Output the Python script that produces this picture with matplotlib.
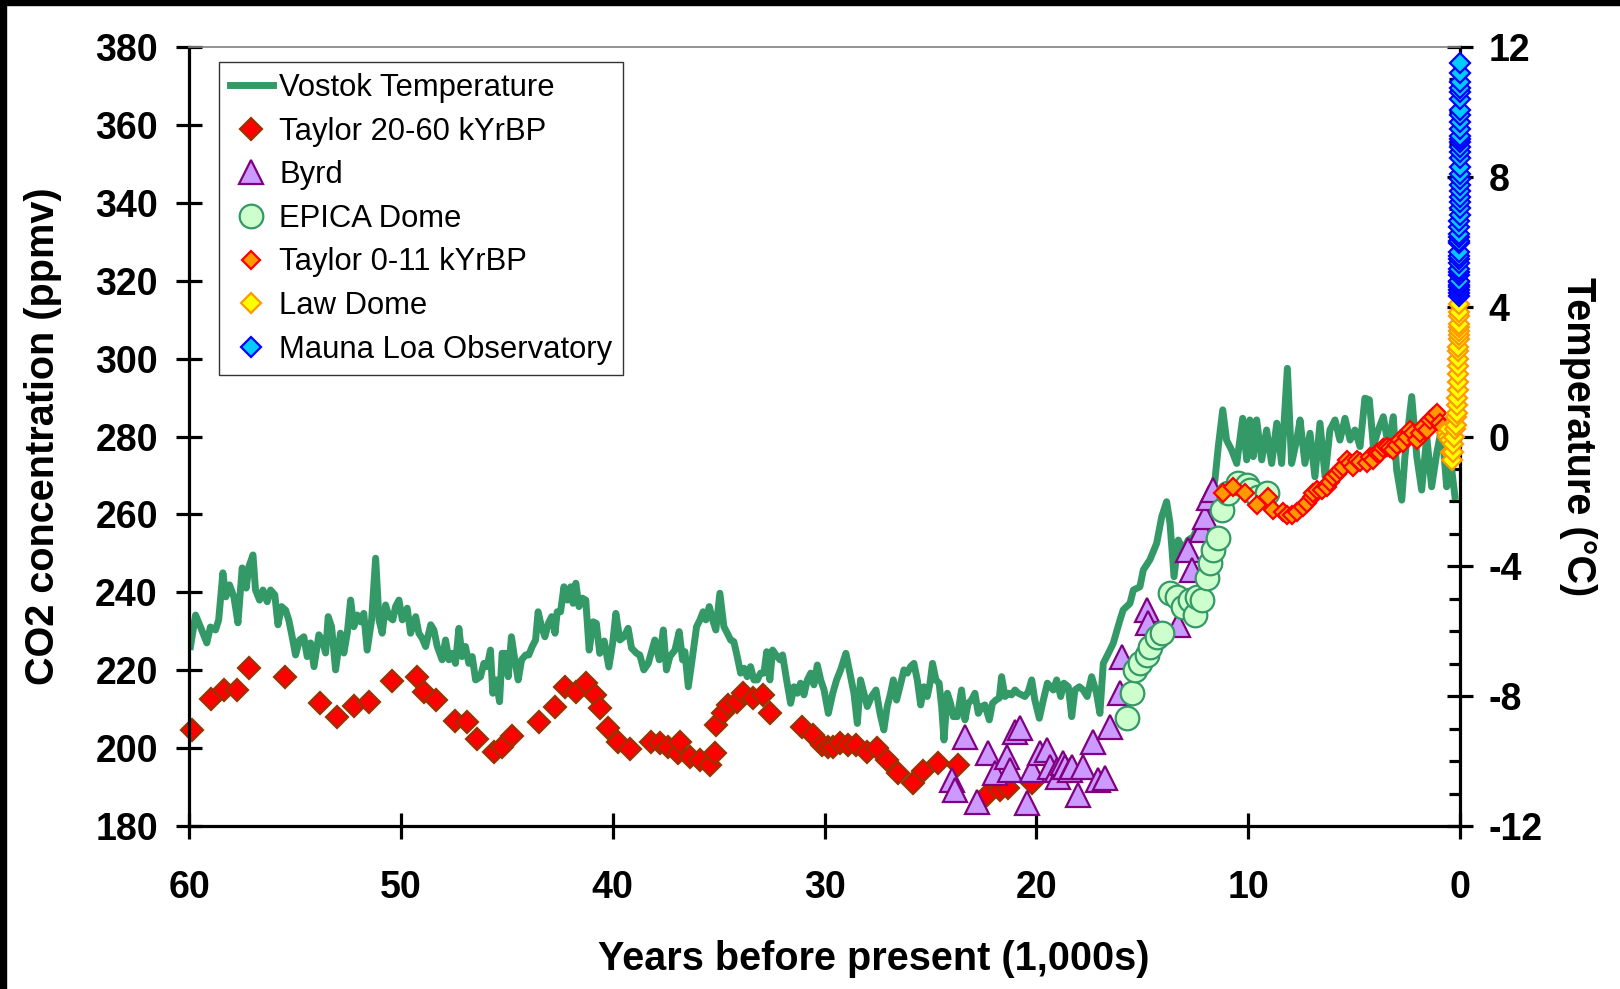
import matplotlib
matplotlib.use("Agg")
import matplotlib.pyplot as plt
from matplotlib.patches import Rectangle
from matplotlib.ticker import MultipleLocator

plt.rcParams['font.family'] = ['Liberation Sans', 'DejaVu Sans']
plt.rcParams['axes.unicode_minus'] = False

# Vostok temperature (kyr BP, deg C)
vostok_age = [
    59.93, 59.69, 59.54, 59.40, 59.16, 58.99, 58.75, 58.60, 58.40, 58.26,
    58.09, 57.88, 57.69, 57.49, 57.30, 57.17, 56.98, 56.86, 56.67, 56.51,
    56.31, 56.15, 55.95, 55.80, 55.63, 55.44, 55.29, 55.13, 54.97, 54.78,
    54.58, 54.42, 54.26, 54.10, 53.87, 53.71, 53.55, 53.43, 53.27, 53.08,
    52.85, 52.69, 52.53, 52.37, 52.22, 52.06, 51.90, 51.75, 51.59, 51.38,
    51.19, 51.03, 50.88, 50.72, 50.56, 50.38, 50.25, 50.09, 49.93, 49.70,
    49.54, 49.30, 49.15, 48.99, 48.83, 48.59, 48.44, 48.28, 48.05, 47.89,
    47.73, 47.58, 47.42, 47.26, 47.11, 46.95, 46.79, 46.63, 46.47, 46.24,
    46.08, 45.93, 45.77, 45.66, 45.50, 45.34, 45.22, 45.06, 44.93, 44.78,
    44.62, 44.46, 44.30, 44.11, 43.96, 43.80, 43.64, 43.52, 43.36, 43.20,
    43.04, 42.88, 42.72, 42.62, 42.46, 42.30, 42.14, 41.98, 41.87, 41.74,
    41.59, 41.43, 41.27, 41.11, 40.92, 40.77, 40.61, 40.40, 40.18, 40.00,
    39.85, 39.66, 39.47, 39.27, 39.11, 38.87, 38.72, 38.53, 38.32, 38.01,
    37.80, 37.61, 37.46, 37.30, 37.06, 36.86, 36.70, 36.59, 36.43, 36.23,
    36.04, 35.88, 35.73, 35.60, 35.44, 35.28, 35.13, 34.94, 34.75, 34.59,
    34.43, 34.28, 34.12, 33.96, 33.80, 33.65, 33.49, 33.33, 33.17, 33.02,
    32.86, 32.73, 32.58, 32.45, 32.29, 32.10, 31.98, 31.79, 31.60, 31.44,
    31.28, 31.13, 30.97, 30.81, 30.65, 30.50, 30.34, 30.18, 30.02, 29.82,
    29.61, 29.43, 29.24, 28.99, 28.80, 28.61, 28.45, 28.30, 28.14, 27.98,
    27.78, 27.57, 27.38, 27.20, 27.04, 26.88, 26.75, 26.60, 26.44, 26.25,
    26.09, 25.94, 25.78, 25.62, 25.46, 25.31, 25.15, 25.02, 24.90, 24.74,
    24.59, 24.47, 24.36, 24.20, 24.05, 23.92, 23.73, 23.53, 23.37, 23.22,
    23.06, 22.90, 22.74, 22.58, 22.43, 22.22, 22.07, 21.91, 21.75, 21.64,
    21.48, 21.32, 21.17, 21.01, 20.85, 20.69, 20.54, 20.38, 20.22, 20.07,
    19.86, 19.67, 19.48, 19.20, 19.04, 18.85, 18.70, 18.49, 18.33, 18.18,
    17.97, 17.79, 17.60, 17.39, 17.16, 17.00, 16.84, 16.60, 16.37, 16.05,
    15.90, 15.58, 15.42, 15.11, 14.95, 14.64, 14.32, 14.08, 13.85, 13.69,
    13.50, 13.30, 13.06, 12.83, 12.59, 12.36, 12.12, 11.80, 11.57, 11.41,
    11.20, 11.02, 10.78, 10.54, 10.26, 10.07, 9.92, 9.76, 9.60, 9.36,
    9.13, 8.89, 8.65, 8.42, 8.15, 7.95, 7.71, 7.55, 7.32, 7.08,
    6.85, 6.61, 6.37, 6.14, 5.90, 5.67, 5.43, 5.19, 4.96, 4.72,
    4.49, 4.28, 4.09, 3.86, 3.62, 3.38, 3.15, 2.99, 2.75, 2.60,
    2.28, 2.04, 1.81, 1.57, 1.34, 1.10, 0.86, 0.63, 0.45, 0.24,
]
vostok_temp = [
    -6.47, -5.50, -5.74, -5.96, -6.36, -5.87, -5.96, -5.65, -4.20, -4.94,
    -4.57, -4.94, -5.74, -4.05, -4.67, -4.00, -3.65, -4.73, -5.04, -4.73,
    -5.09, -4.73, -4.88, -5.80, -5.24, -5.35, -5.65, -6.17, -6.73, -6.27,
    -6.17, -6.78, -6.36, -7.09, -6.11, -6.27, -6.67, -5.55, -5.86, -7.19,
    -6.06, -6.67, -6.06, -5.04, -5.86, -5.50, -5.71, -5.45, -6.58, -5.65,
    -3.75, -5.65, -6.06, -5.19, -5.55, -5.65, -5.24, -5.04, -5.65, -5.29,
    -6.06, -5.55, -6.06, -6.22, -6.47, -5.80, -5.96, -6.47, -6.88, -6.27,
    -6.88, -6.68, -6.99, -5.91, -6.78, -6.47, -6.99, -6.78, -7.50, -7.40,
    -6.99, -7.09, -6.58, -7.91, -7.50, -8.17, -6.68, -6.68, -7.40, -6.17,
    -6.88, -7.50, -6.88, -6.73, -6.73, -6.47, -6.27, -5.40, -5.86, -6.17,
    -5.76, -5.55, -6.06, -5.40, -5.40, -4.63, -5.04, -4.63, -5.14, -4.52,
    -5.24, -4.98, -5.04, -6.58, -5.71, -5.76, -6.68, -6.30, -7.10, -6.37,
    -5.45, -6.27, -6.17, -5.91, -6.52, -6.68, -6.73, -7.19, -6.99, -6.27,
    -6.88, -5.96, -7.19, -6.78, -6.58, -6.01, -6.88, -6.63, -7.71, -6.78,
    -5.86, -5.65, -5.40, -5.65, -5.24, -5.65, -5.96, -4.83, -5.86, -6.06,
    -6.27, -6.32, -6.78, -7.29, -7.14, -7.40, -7.09, -7.50, -7.50, -7.29,
    -7.29, -6.63, -7.50, -6.58, -6.73, -6.88, -6.73, -7.50, -8.22, -7.71,
    -7.91, -7.60, -7.96, -7.50, -7.29, -7.65, -7.04, -7.50, -7.81, -8.53,
    -7.91, -7.50, -7.19, -6.68, -7.29, -7.91, -8.84, -7.50, -7.91, -8.32,
    -8.01, -7.81, -8.53, -9.04, -8.32, -7.91, -7.50, -8.12, -7.71, -7.19,
    -7.29, -7.09, -6.99, -7.50, -8.27, -7.71, -8.01, -7.60, -6.99, -7.50,
    -7.60, -8.32, -9.35, -7.91, -8.22, -8.63, -8.63, -7.81, -8.73, -8.22,
    -8.12, -7.91, -8.53, -8.32, -8.27, -8.73, -8.22, -8.12, -8.06, -7.40,
    -8.01, -7.91, -7.96, -7.81, -7.91, -7.96, -8.01, -7.86, -7.50, -8.12,
    -8.68, -8.12, -7.60, -7.81, -7.50, -8.01, -7.60, -7.71, -8.63, -7.81,
    -7.71, -7.81, -8.01, -7.40, -7.91, -8.53, -6.99, -6.68, -6.37, -5.65,
    -5.34, -5.14, -4.73, -4.63, -4.11, -3.80, -3.29, -2.47, -2.01, -2.67,
    -4.32, -3.19, -3.50, -3.19, -3.09, -2.78, -2.67, -2.06, -1.34, -0.31,
    0.82, -0.11, -0.42, -0.83, 0.56, -0.72, 0.51, -0.62, 0.51, -0.72,
    0.20, -0.83, 0.41, -0.83, 2.10, -0.83, -0.11, 0.51, -0.83, 0.10,
    -1.24, 0.41, -1.24, 0.20, 0.51, -0.11, 0.56, -0.11, 0.20, -0.31,
    1.18, 1.13, -0.31, 0.20, 0.61, -0.31, 0.61, -1.03, -1.96, -0.62,
    1.23, -0.62, -1.65, 0.00, -1.55, -0.52, 0.30, -1.55, -0.70, -1.85,
]

# Taylor Dome 20-60 kyr BP (kyr BP, ppmv)
taylor_old_age = [
    59.85, 58.94, 58.36, 57.73, 57.18, 55.48, 53.82, 53.00, 52.19, 51.51,
    50.41, 49.23, 48.91, 48.36, 47.42, 46.87, 46.40, 45.61, 45.22, 44.74,
    43.48, 42.73, 42.26, 41.75, 41.28, 40.84, 40.60, 40.20, 39.74, 39.19,
    38.17, 37.77, 37.38, 36.90, 36.83, 36.36, 35.88, 35.41, 35.18, 35.10,
    34.78, 34.55, 34.15, 33.84, 33.37, 32.90, 32.58, 31.08, 30.53, 30.14,
    29.82, 29.59, 29.27, 28.88, 28.49, 28.01, 27.54, 27.07, 26.52, 25.81,
    25.34, 24.63, 23.69, 22.35, 21.72, 21.33, 20.22,
]
taylor_old_co2 = [
    204.6, 212.5, 214.9, 214.9, 220.5, 218.3, 211.5, 208.1, 210.9, 211.8,
    217.1, 218.3, 214.5, 212.3, 207.0, 206.8, 202.3, 199.1, 200.4, 203.1,
    206.6, 210.6, 215.8, 214.5, 216.6, 213.6, 210.2, 205.1, 201.6, 199.7,
    201.6, 201.2, 200.4, 198.7, 201.6, 197.8, 196.9, 195.7, 198.8, 205.9,
    208.9, 211.1, 211.9, 214.1, 212.8, 213.6, 208.9, 205.5, 203.4, 200.8,
    200.4, 200.4, 201.2, 200.8, 200.8, 199.1, 200.0, 196.9, 193.5, 191.0,
    194.0, 196.1, 195.7, 188.0, 189.2, 189.7, 191.0,
]

# Byrd (kyr BP, ppmv)
byrd_age = [
    24.00, 23.84, 23.37, 22.82, 22.27, 21.96, 21.40, 21.25, 21.01, 20.77,
    20.46, 20.22, 19.83, 19.51, 19.36, 19.04, 18.96, 18.73, 18.65, 18.41,
    18.33, 18.02, 17.79, 17.31, 17.07, 16.76, 16.52, 16.05, 15.97, 14.79,
    14.72, 13.30, 12.83, 12.67, 12.20, 12.04, 11.84, 11.65,
]
byrd_co2 = [
    191.8, 189.2, 202.9, 186.2, 198.7, 193.5, 197.8, 194.4, 204.2, 205.1,
    185.8, 194.4, 198.7, 199.5, 195.2, 194.4, 192.7, 196.1, 195.2, 194.4,
    195.2, 188.0, 195.2, 201.6, 191.8, 192.2, 205.5, 214.1, 223.5, 235.5,
    232.0, 231.6, 250.9, 245.7, 256.0, 259.4, 264.1, 266.3,
]

# EPICA Dome C (kyr BP, ppmv)
epica_age = [
    15.74, 15.50, 15.34, 15.11, 14.79, 14.64, 14.32, 14.08, 13.69, 13.38,
    13.06, 12.75, 12.51, 12.43, 12.20, 11.96, 11.80, 11.65, 11.41, 11.25,
    10.94, 10.47, 10.07, 9.92, 9.52, 9.13,
]
epica_co2 = [
    207.7, 214.1, 220.1, 221.8, 223.9, 226.0, 228.6, 229.5, 239.7, 238.9,
    236.3, 238.0, 234.2, 238.9, 238.0, 243.6, 247.4, 250.9, 253.9, 261.1,
    265.4, 268.0, 267.5, 266.3, 264.5, 265.4,
]

# Taylor Dome 0-11 kyr BP (kyr BP, ppmv)
taylor_young_age = [
    11.17, 10.70, 10.15, 9.60, 9.05, 8.81, 8.34, 8.18, 7.95, 7.71,
    7.40, 7.24, 7.00, 6.93, 6.77, 6.53, 6.29, 6.14, 5.98, 5.82,
    5.67, 5.51, 5.35, 5.19, 5.04, 4.88, 4.72, 4.41, 4.25, 4.09,
    3.93, 3.78, 3.62, 3.46, 3.30, 3.15, 2.99, 2.83, 2.68, 2.52,
    2.36, 2.20, 2.04, 1.89, 1.73, 1.57, 1.42, 1.26, 1.10, 0.94, 0.79,
]
taylor_young_co2 = [
    265.4, 267.1, 265.4, 262.4, 264.5, 261.1, 260.7, 259.8, 259.8, 260.7,
    262.0, 262.9, 264.5, 265.4, 266.3, 266.3, 267.1, 268.4, 269.7, 270.5,
    271.4, 272.2, 274.0, 273.1, 272.2, 274.0, 273.5, 273.1, 274.8, 274.0,
    275.7, 275.7, 277.0, 277.4, 277.0, 276.5, 277.8, 279.1, 278.3, 280.0,
    281.7, 280.8, 279.1, 280.8, 282.5, 281.7, 284.2, 285.1, 286.0, 283.4, 282.5,
]

# Law Dome (kyr BP, ppmv)
law_age = [
    0.62, 0.56, 0.50, 0.45, 0.41, 0.38, 0.35, 0.31, 0.27, 0.23,
    0.20, 0.17, 0.15, 0.13, 0.12, 0.11, 0.10, 0.095, 0.09, 0.085,
    0.08, 0.075, 0.07, 0.066, 0.062, 0.058, 0.055, 0.052, 0.049, 0.046,
]
law_co2 = [
    281, 280, 282, 279, 276, 274, 276, 278, 280, 282,
    283, 285, 286, 288, 290, 292, 294, 296, 298, 300,
    302, 303, 305, 306, 307, 308, 309, 311, 312, 314,
]

# Mauna Loa annual means 1959-2003 (kyr BP, ppmv)
mlo_age = [
    0.044, 0.043, 0.042, 0.041, 0.040, 0.039, 0.038, 0.037, 0.036, 0.035,
    0.034, 0.033, 0.032, 0.031, 0.030, 0.029, 0.028, 0.027, 0.026, 0.025,
    0.024, 0.023, 0.022, 0.021, 0.020, 0.019, 0.018, 0.017, 0.016, 0.015,
    0.014, 0.013, 0.012, 0.011, 0.010, 0.009, 0.008, 0.007, 0.006, 0.005,
    0.004, 0.003, 0.002, 0.001, 0.000,
]
mlo_co2 = [
    315.97, 316.91, 317.64, 318.45, 318.99, 319.62, 320.04, 321.38, 322.16, 323.04,
    324.62, 325.68, 326.32, 327.45, 329.68, 330.18, 331.11, 332.04, 333.83, 335.40,
    336.84, 338.75, 340.11, 341.45, 343.05, 344.65, 346.12, 347.42, 349.19, 351.57,
    353.12, 354.39, 355.61, 356.45, 357.10, 358.83, 360.82, 362.61, 363.73, 366.70,
    368.38, 369.55, 371.14, 373.28, 375.80,
]

fig = plt.figure(figsize=(16.2, 9.89), dpi=100)
ax = fig.add_axes([0.11667, 0.16481, 0.78457, 0.78767])
ax2 = ax.twinx()
ax.set_zorder(ax2.get_zorder() + 1)
ax.patch.set_visible(False)

vostok, = ax2.plot(vostok_age, vostok_temp, color='#339966', lw=5,
                   solid_joinstyle='round', label='Vostok Temperature')

series = [
    (taylor_old_age, taylor_old_co2, 'D', 11, '#FF0000', '#993300', 'Taylor 20-60 kYrBP'),
    (byrd_age, byrd_co2, '^', 17, '#CC99FF', '#800080', 'Byrd'),
    (epica_age, epica_co2, 'o', 17, '#CCFFCC', '#339966', 'EPICA Dome'),
    (taylor_young_age, taylor_young_co2, 'D', 9.5, '#FF9900', '#FF0000', 'Taylor 0-11 kYrBP'),
    (law_age, law_co2, 'D', 10, '#FFFF00', '#FF9900', 'Law Dome'),
    (mlo_age, mlo_co2, 'D', 10, '#00CCFF', '#0000FF', 'Mauna Loa Observatory'),
]
handles = [vostok]
for xs, ys, mk, ms, fc, ec, name in series:
    h, = ax.plot(xs, ys, ls='none', marker=mk, ms=ms, mfc=fc, mec=ec, mew=1.6,
                 clip_on=False, label=name)
    handles.append(h)

ax.set_xlim(60, 0)
ax.set_ylim(180, 380)
ax2.set_ylim(-12, 12)
ax.set_xticks(range(0, 61, 10))
ax.set_yticks(range(180, 381, 20))
ax2.set_yticks(range(-12, 13, 4))
ax2.yaxis.set_minor_locator(MultipleLocator(1))

ax.tick_params(axis='x', direction='inout', length=19, width=2.3, pad=22, labelsize=27)
ax.tick_params(axis='y', direction='inout', length=19, width=2.3, pad=13, labelsize=27, right=False)
ax2.tick_params(axis='y', which='major', direction='inout', length=19, width=2.3, pad=11, labelsize=27)
ax2.tick_params(axis='y', which='minor', direction='in', length=8, width=2.3)
plt.setp(ax.get_xticklabels() + ax.get_yticklabels() + ax2.get_yticklabels(), fontweight='bold')

for side in ['left', 'bottom']:
    ax.spines[side].set_linewidth(2.3)
ax.spines['right'].set_visible(False)
ax.spines['top'].set_color('#808080')
ax.spines['top'].set_linewidth(1.2)
for side in ['left', 'top', 'bottom']:
    ax2.spines[side].set_visible(False)
ax2.spines['right'].set_linewidth(2.3)

ax.set_xlabel('Years before present (1,000s)', fontsize=28.5, fontweight='bold')
ax.xaxis.set_label_coords(0.539, -0.146)
ax.set_ylabel('CO2 concentration (ppmv)', fontsize=28.5, fontweight='bold', labelpad=24)
ax2.set_ylabel('Temperature (°C)', fontsize=28.5, fontweight='bold', rotation=270,
               va='bottom', labelpad=12)

leg = ax.legend(handles, [h.get_label() for h in handles], loc='upper left',
                bbox_to_anchor=(0.0236, 0.9807), borderaxespad=0, fontsize=22.3,
                fancybox=False, edgecolor='#333333', framealpha=1, borderpad=0.35,
                labelspacing=0.44, handlelength=1.38, handletextpad=0.22)
leg.get_frame().set_linewidth(1.0)

# black frame strips along the top and left edge of the picture
fig.add_artist(Rectangle((0, 1 - 5 / 989), 1, 5 / 989, transform=fig.transFigure,
                         color='black', zorder=10))
fig.add_artist(Rectangle((0, 0), 6 / 1620, 1, transform=fig.transFigure,
                         color='black', zorder=10))

fig.savefig('out.png', dpi=100)
